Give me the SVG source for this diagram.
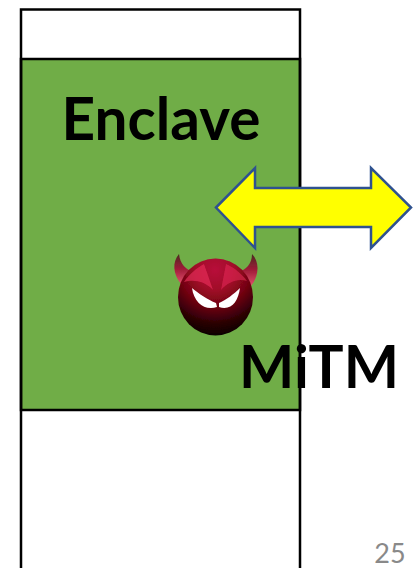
<svg xmlns="http://www.w3.org/2000/svg" width="414" height="568" viewBox="0 0 414 568">
<style>
.box{fill:none;stroke:#000;stroke-width:2.5}
.lbl{font-family:"Lato","Open Sans",sans-serif;font-weight:700;fill:#000;font-size:58.5px;text-anchor:middle}
</style>
<defs>
<radialGradient id="ball" gradientUnits="userSpaceOnUse" cx="215" cy="270" r="66">
<stop offset="0" stop-color="#b8103a"/>
<stop offset="0.3" stop-color="#a00a28"/>
<stop offset="0.55" stop-color="#700410"/>
<stop offset="0.8" stop-color="#2c0005"/>
<stop offset="1" stop-color="#0a0000"/>
</radialGradient>
<linearGradient id="horn" x1="0" y1="0" x2="0" y2="1">
<stop offset="0" stop-color="#4a2a20"/>
<stop offset="0.5" stop-color="#a01c38"/>
<stop offset="1" stop-color="#e0506c"/>
</linearGradient>
<filter id="soft" x="-10%" y="-10%" width="120%" height="120%"><feGaussianBlur stdDeviation="0.6"/></filter>
</defs>
<rect width="414" height="568" fill="#fff"/>
<g id="enclave">
<rect x="21" y="59" width="279" height="351" fill="#70ad47"/>
<rect class="box" x="21" y="59" width="279" height="351"/>
<text class="lbl" x="161" y="140">Enclave</text>
</g>
<g id="memory">
<path class="box" d="M21 568V9.500H300V568"/>
</g>
<g id="connectors">
<path d="M216 207.500L255 168V188H371V168L411 207.500L371 248V227H255V248Z" fill="#ff0" stroke="#2f528f" stroke-width="2.500"/>
</g>
<g id="mitm">
<g filter="url(#soft)">
<path d="M179 254C172 262 173 274 181 284L194 272C186 270 180 264 179 254Z" fill="url(#horn)"/>
<path d="M252 254C260 262 259 276 251 286L238 272C246 270 252 264 252 254Z" fill="url(#horn)"/>
<ellipse cx="215.500" cy="297" rx="37.500" ry="38.500" fill="url(#ball)"/>
<path d="M184 282C190 273 197 268 204 264L213 290C206 282 194 279 184 282Z" fill="#e8305a" opacity="0.65"/>
<path d="M247 281C240 272 233 267 226 264L221 290C228 282 238 278 247 281Z" fill="#e8305a" opacity="0.55"/>
<path d="M192 288C198 293 208 300 216 303L217 307C205 311 194 303 192 288Z" fill="#fff"/>
<path d="M240 288C234 294 226 300 219 303L219 307C231 311 238 302 240 288Z" fill="#fff"/>
</g>
<text class="lbl" x="319" y="388">MiTM</text>
</g>
<text id="page" x="390" y="563" font-family="Lato,sans-serif" font-size="27" fill="#898989" text-anchor="middle">25</text>
</svg>
